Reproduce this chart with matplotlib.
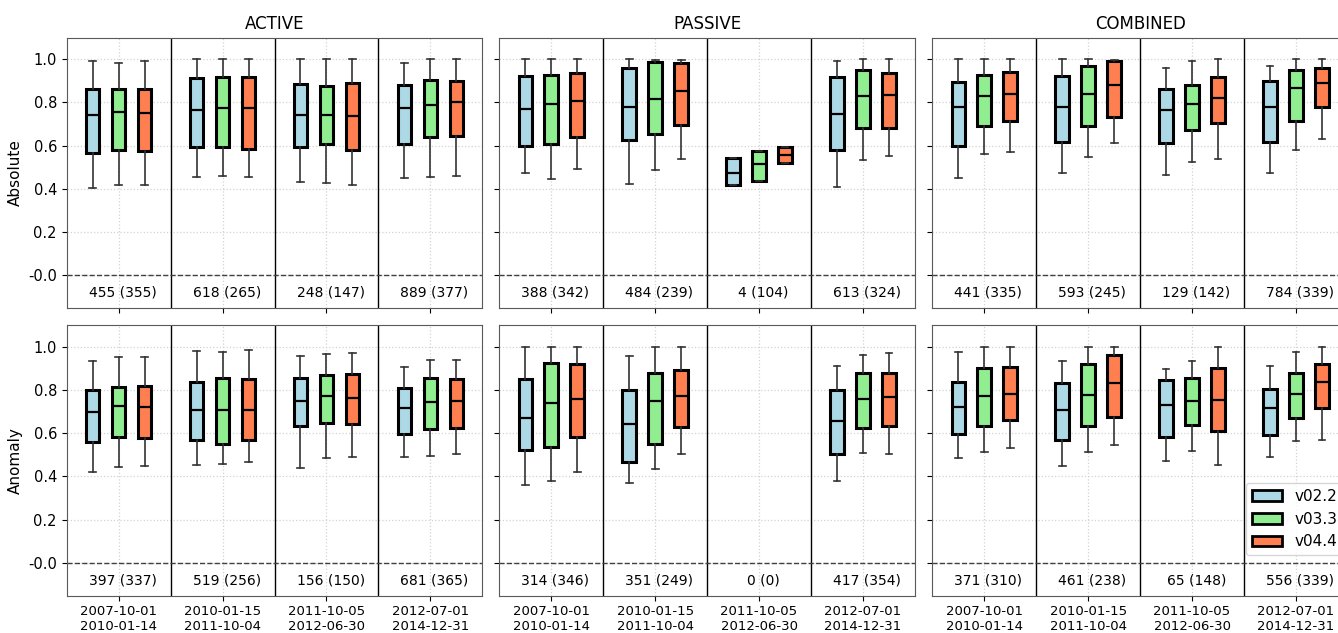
import numpy as np
import matplotlib.pyplot as plt
from matplotlib.patches import Patch

periods = ['2007-10-01\n2010-01-14', '2010-01-15\n2011-10-04',
           '2011-10-05\n2012-06-30', '2012-07-01\n2014-12-31']
versions = ['v02.2', 'v03.3', 'v04.4']
colors = ['lightblue', 'lightgreen', 'coral']
products = ['ACTIVE', 'PASSIVE', 'COMBINED']
metrics = ['Absolute', 'Anomaly']

# per period, per version: whisker low, q1, median, q3, whisker high
active_abs = [
    [[0.404, 0.565, 0.743, 0.861, 0.994], [0.416, 0.581, 0.757, 0.864, 0.985], [0.416, 0.576, 0.752, 0.861, 0.991]],
    [[0.456, 0.593, 0.766, 0.914, 1.000], [0.461, 0.593, 0.772, 0.917, 1.000], [0.456, 0.586, 0.772, 0.917, 1.000]],
    [[0.433, 0.593, 0.743, 0.884, 1.000], [0.427, 0.609, 0.743, 0.878, 1.000], [0.419, 0.578, 0.738, 0.888, 1.000]],
    [[0.448, 0.607, 0.775, 0.880, 0.981], [0.453, 0.639, 0.790, 0.904, 1.000], [0.461, 0.643, 0.803, 0.901, 1.000]],
]
passive_abs = [
    [[0.475, 0.598, 0.770, 0.923, 1.000], [0.445, 0.607, 0.794, 0.928, 1.000], [0.493, 0.638, 0.806, 0.937, 1.000]],
    [[0.424, 0.627, 0.780, 0.961, 1.000], [0.487, 0.655, 0.817, 0.988, 0.996], [0.538, 0.696, 0.855, 0.985, 0.995]],
    [[0.416, 0.416, 0.473, 0.542, 0.542], [0.438, 0.438, 0.513, 0.576, 0.576], [0.519, 0.519, 0.558, 0.595, 0.595]],
    [[0.408, 0.578, 0.746, 0.920, 0.994], [0.533, 0.680, 0.832, 0.951, 1.000], [0.550, 0.680, 0.835, 0.937, 1.000]],
]
combined_abs = [
    [[0.448, 0.598, 0.780, 0.897, 1.000], [0.561, 0.693, 0.832, 0.928, 1.000], [0.569, 0.716, 0.838, 0.940, 1.000]],
    [[0.475, 0.615, 0.780, 0.923, 1.000], [0.547, 0.693, 0.841, 0.969, 1.000], [0.612, 0.732, 0.880, 0.991, 0.995]],
    [[0.465, 0.612, 0.766, 0.861, 0.961], [0.524, 0.672, 0.794, 0.883, 0.994], [0.538, 0.707, 0.821, 0.920, 1.000]],
    [[0.475, 0.618, 0.780, 0.900, 0.969], [0.582, 0.716, 0.866, 0.949, 1.000], [0.632, 0.777, 0.888, 0.961, 1.000]],
]
active_anom = [
    [[0.420, 0.558, 0.700, 0.801, 0.935], [0.444, 0.581, 0.726, 0.815, 0.954], [0.448, 0.577, 0.719, 0.818, 0.954]],
    [[0.454, 0.569, 0.705, 0.838, 0.980], [0.457, 0.550, 0.705, 0.855, 0.975], [0.465, 0.570, 0.709, 0.849, 0.985]],
    [[0.440, 0.635, 0.750, 0.853, 0.957], [0.484, 0.646, 0.773, 0.869, 0.966], [0.488, 0.643, 0.764, 0.872, 0.972]],
    [[0.488, 0.595, 0.716, 0.811, 0.904], [0.495, 0.620, 0.745, 0.856, 0.938], [0.502, 0.626, 0.750, 0.850, 0.938]],
]
passive_anom = [
    [[0.362, 0.521, 0.671, 0.849, 0.997], [0.377, 0.536, 0.740, 0.924, 0.997], [0.423, 0.581, 0.760, 0.920, 0.997]],
    [[0.369, 0.468, 0.641, 0.801, 0.957], [0.433, 0.550, 0.751, 0.879, 0.997], [0.505, 0.629, 0.771, 0.893, 0.997]],
    None,
    [[0.380, 0.502, 0.655, 0.798, 0.909], [0.510, 0.626, 0.757, 0.879, 0.961], [0.502, 0.635, 0.765, 0.879, 0.972]],
]
combined_anom = [
    [[0.485, 0.595, 0.719, 0.836, 0.975], [0.515, 0.635, 0.774, 0.901, 0.997], [0.530, 0.663, 0.782, 0.907, 0.997]],
    [[0.448, 0.569, 0.709, 0.833, 0.935], [0.515, 0.632, 0.777, 0.921, 0.997], [0.547, 0.677, 0.833, 0.961, 0.997]],
    [[0.470, 0.584, 0.730, 0.845, 0.898], [0.518, 0.638, 0.751, 0.856, 0.935], [0.454, 0.612, 0.754, 0.901, 0.997]],
    [[0.490, 0.590, 0.716, 0.805, 0.909], [0.563, 0.672, 0.782, 0.879, 0.975], [0.570, 0.716, 0.836, 0.921, 0.997]],
]

# number of samples (reference count) per period
active_abs_n = [(455, 355), (618, 265), (248, 147), (889, 377)]
passive_abs_n = [(388, 342), (484, 239), (4, 104), (613, 324)]
combined_abs_n = [(441, 335), (593, 245), (129, 142), (784, 339)]
active_anom_n = [(397, 337), (519, 256), (156, 150), (681, 365)]
passive_anom_n = [(314, 346), (351, 249), (0, 0), (417, 354)]
combined_anom_n = [(371, 310), (461, 238), (65, 148), (556, 339)]

boxdata = [[active_abs, passive_abs, combined_abs],
           [active_anom, passive_anom, combined_anom]]
counts = [[active_abs_n, passive_abs_n, combined_abs_n],
          [active_anom_n, passive_anom_n, combined_anom_n]]

W, H = 1338, 633
fig = plt.figure(figsize=(W / 100, H / 100), dpi=100)

lefts = [66.7, 499.3, 932.3]
width = 415.6
rows = [(37.7, 307.5), (325.0, 595.5)]

yt = [0.0, 0.2, 0.4, 0.6, 0.8, 1.0]
ytl = ['-0.0', '0.2', '0.4', '0.6', '0.8', '1.0']

for r, metric in enumerate(metrics):
    for c, prod in enumerate(products):
        top, bot = rows[r]
        ax = fig.add_axes([lefts[c] / W, 1 - bot / H, width / W, (bot - top) / H])
        stats, pos, cols = [], [], []
        for i, per in enumerate(boxdata[r][c]):
            if per is None:
                continue
            for j, s in enumerate(per):
                stats.append(dict(whislo=s[0], q1=s[1], med=s[2], q3=s[3], whishi=s[4], fliers=[]))
                pos.append(i + (j - 1) * 0.25)
                cols.append(colors[j])
        bp = ax.bxp(stats, positions=pos, widths=0.13, patch_artist=True, showfliers=False,
                    boxprops=dict(edgecolor='black', linewidth=2.2),
                    medianprops=dict(color='black', linewidth=1.6),
                    whiskerprops=dict(color='0.2', linewidth=1.2),
                    capprops=dict(color='0.2', linewidth=1.2))
        for patch, col in zip(bp['boxes'], cols):
            patch.set_facecolor(col)

        for i in range(3):
            ax.axvline(i + 0.5, color='black', lw=1)
        ax.axhline(0, color='0.25', ls='--', lw=1)
        for i, (n, m) in enumerate(counts[r][c]):
            ax.text(i + 0.04, -0.08, f'{n} ({m})', ha='center', va='center', fontsize=10)

        ax.set_xlim(-0.5, 3.5)
        ax.set_ylim(-0.15, 1.1)
        ax.grid(True, color='lightgray', linestyle=':', lw=0.9)
        ax.set_axisbelow(True)
        ax.set_xticks(range(4))
        if r == 1:
            ax.set_xticklabels(periods, fontsize=9.5)
        else:
            ax.set_xticklabels([])
            ax.set_title(prod, fontsize=12)
        ax.set_yticks(yt)
        if c == 0:
            ax.set_yticklabels(ytl, fontsize=10.5)
            ax.set_ylabel(metric, fontsize=11)
        else:
            ax.set_yticklabels([])
        for sp in ax.spines.values():
            sp.set_color('0.35')

        if r == 1 and c == 2:
            handles = [Patch(facecolor=colors[k], edgecolor='black', lw=2, label=versions[k]) for k in range(3)]
            ax.legend(handles=handles, loc='lower right', bbox_to_anchor=(1.008, 0.12), fontsize=11)

fig.savefig('out.png', dpi=100)
